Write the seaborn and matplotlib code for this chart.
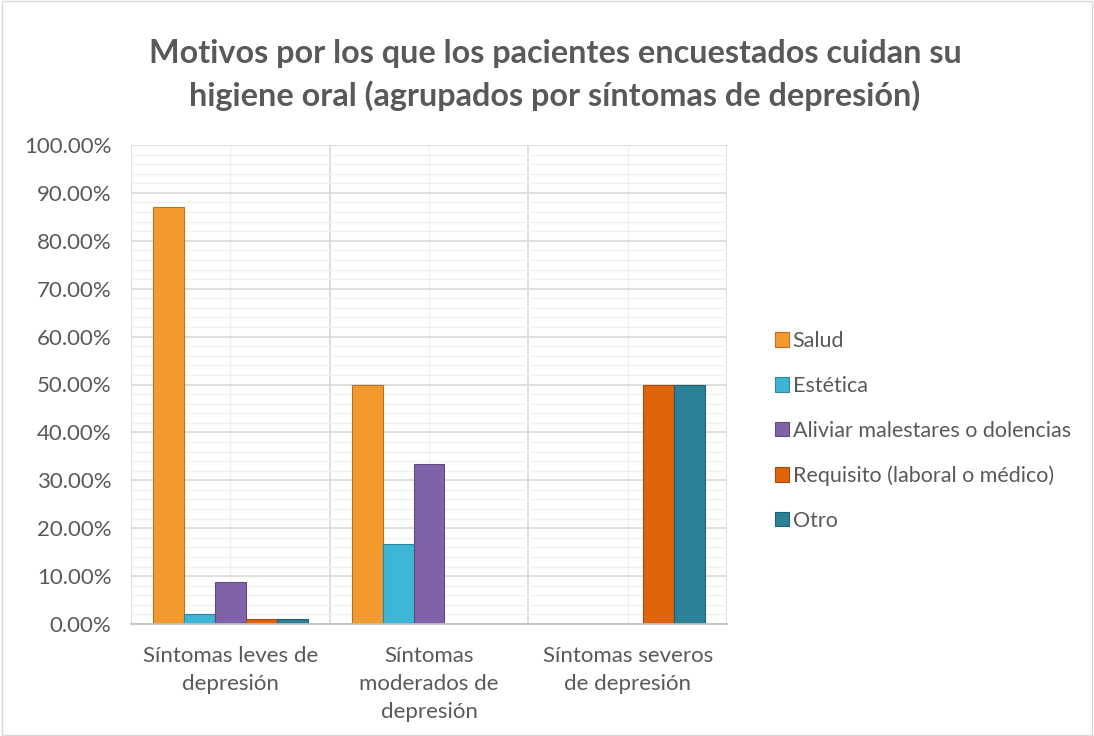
import matplotlib
matplotlib.use("Agg")
import matplotlib.pyplot as plt
import seaborn as sns
import pandas as pd
import numpy as np
from matplotlib.ticker import MultipleLocator, FuncFormatter, FixedLocator

categories = ["Síntomas leves de\ndepresión", "Síntomas\nmoderados de\ndepresión", "Síntomas severos\nde depresión"]
series = ["Salud", "Estética", "Aliviar malestares o dolencias", "Requisito (laboral o médico)", "Otro"]
salud = [86.96, 50.00, 0.0]
estetica = [2.17, 16.67, 0.0]
aliviar = [8.70, 33.33, 0.0]
requisito = [1.09, 0.0, 50.00]
otro = [1.09, 0.0, 50.00]
colors = ["#F39A2E", "#3DB5D4", "#8062A8", "#DF640C", "#2A8198"]
title = "Motivos por los que los pacientes encuestados cuidan su\nhigiene oral (agrupados por síntomas de depresión)"

values = [salud, estetica, aliviar, requisito, otro]
rows = []
for s, vals in zip(series, values):
    for c, v in zip(categories, vals):
        rows.append({"cat": c, "serie": s, "val": v})
df = pd.DataFrame(rows)

sns.set_theme(style="white")
plt.rcParams['font.family'] = ['Lato', 'DejaVu Sans']

fig = plt.figure(figsize=(10.94, 7.36), dpi=100)
ax = fig.add_axes([131/1094, 1-624/736, (727-131)/1094, (624-145)/736])

sns.barplot(data=df, x="cat", y="val", hue="serie", hue_order=series, order=categories,
            palette=colors, width=0.78, gap=0, ax=ax, saturation=1, edgecolor="none", legend=True)

for patch in ax.patches:
    fc = patch.get_facecolor()
    patch.set_edgecolor(tuple(np.array(fc[:3]) * 0.75) + (1,))
    patch.set_linewidth(0.8)

ax.set_ylim(0, 100)
ax.set_xlim(-0.5, 2.5)
ax.yaxis.set_major_locator(MultipleLocator(10))
ax.yaxis.set_minor_locator(MultipleLocator(2))
ax.yaxis.set_major_formatter(FuncFormatter(lambda v, p: f"{v:.2f}%"))
ax.xaxis.set_minor_locator(FixedLocator([-0.5, 0.5, 1.5, 2.5]))
ax.grid(which="major", axis="y", color="#D9D9D9", linewidth=1.2)
ax.grid(which="minor", axis="y", color="#F0F0F0", linewidth=1.0)
ax.grid(which="major", axis="x", color="#F0F0F0", linewidth=1.0)
ax.grid(which="minor", axis="x", color="#D9D9D9", linewidth=1.2)
ax.set_axisbelow(True)
for side in ["top", "right", "left"]:
    ax.spines[side].set_visible(False)
ax.spines["bottom"].set_color("#BFBFBF")
ax.tick_params(axis="both", which="both", length=0, labelsize=16, colors="#595959")
ax.tick_params(axis="x", pad=16)
ax.tick_params(axis="y", pad=14)
ax.set_xlabel("")
ax.set_ylabel("")
for lbl in ax.get_xticklabels():
    lbl.set_linespacing(1.5)

leg = ax.legend(loc="center left", bbox_to_anchor=(756/1094, 1-431/736), bbox_transform=fig.transFigure,
                frameon=False, fontsize=15.5, handlelength=0.65, handleheight=0.65,
                handletextpad=0.15, labelspacing=1.15, labelcolor="#595959")

fig.text(555/1094, 1-75/736, title, ha="center", va="center", fontsize=23.3, fontweight="bold",
         color="#595959", linespacing=1.45)

border = plt.Rectangle((0.002, 0.002), 0.996, 0.996, transform=fig.transFigure, fill=False,
                       edgecolor="#D9D9D9", linewidth=1)
fig.patches.append(border)

fig.savefig("out.png", dpi=100)
